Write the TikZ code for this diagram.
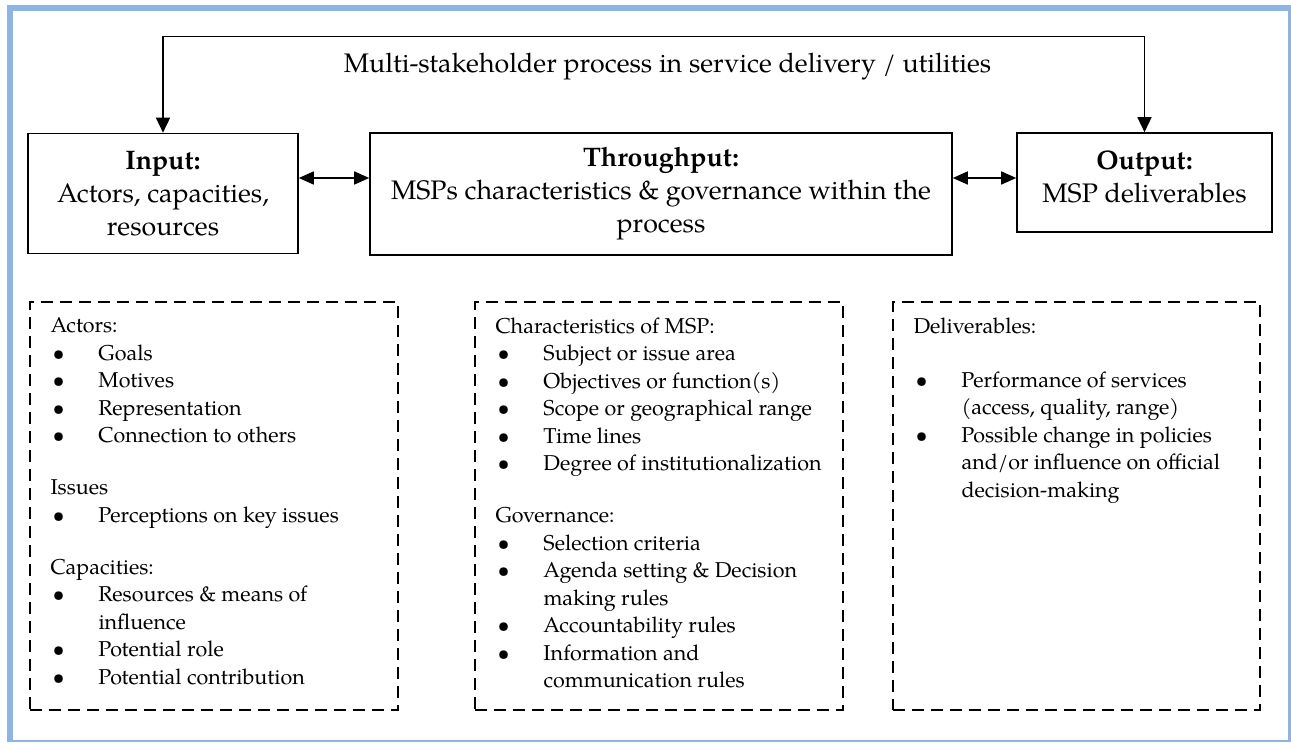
\documentclass[tikz,border=0pt]{standalone}
\usepackage{fontspec}
\setmainfont{texgyrepagella}[Extension=.otf, UprightFont=*-regular, BoldFont=*-bold, ItalicFont=*-italic, BoldItalicFont=*-bolditalic]
\usetikzlibrary{arrows.meta}
\definecolor{frameblue}{HTML}{8DB4E2}
\newcommand{\bitem}[1]{\hspace*{2pt}\makebox[46pt][l]{\textbullet}#1}
\newcommand{\contline}[1]{\hspace*{48pt}#1}
\tikzset{
  topbox/.style={draw, line width=1.6pt, inner sep=0pt, align=center, font=\fontsize{26.8}{33}\selectfont},
  dbox/.style={draw, line width=1.4pt, dash pattern=on 12pt off 7pt, inner sep=0pt},
  listtext/.style={inner sep=0pt, align=left, anchor=north west, font=\fontsize{21.5}{27.5}\selectfont},
  dblarr/.style={line width=1.6pt, {Triangle[length=15pt,width=13pt]}-{Triangle[length=15pt,width=13pt]}},
  looparr/.style={line width=1.6pt, {Triangle[length=15pt,width=14pt]}-{Triangle[length=15pt,width=14pt]}}
}
\begin{document}
\begin{tikzpicture}[x=1pt,y=-1pt]
\useasboundingbox (0,0) rectangle (1291,743);
\fill[white] (0,0) rectangle (1291,743);
% frame
\fill[frameblue] (7,5) rectangle (13,742);
\fill[frameblue] (7,5) rectangle (1290.5,11);
\fill[frameblue] (1287.5,5) rectangle (1290.5,742);
\fill[frameblue] (7,739.5) rectangle (1290.5,742);
% title
\node[font=\fontsize{26.8}{33}\selectfont, anchor=base, inner sep=0pt] (title) at (667.5,73) {Multi-stakeholder process in service delivery / utilities};
% top boxes
\node[topbox, minimum width=270pt, minimum height=120pt] (in) at (163,193.5) {\textbf{Input:}\\Actors, capacities,\\resources};
\node[topbox, minimum width=582pt, minimum height=122pt] (thr) at (661,194) {\textbf{Throughput:}\\MSPs characteristics \& governance within the\\process};
\node[topbox, minimum width=255pt, minimum height=99pt, text depth=12pt] (out) at (1144.5,182.5) {\textbf{Output:}\\MSP deliverables};
% connectors
\draw[looparr] (in.north) -- ([yshift=96pt]in.north) -| (out.north);
\draw[dblarr] ([yshift=15.5pt]in.east) -- ([yshift=16pt]thr.west);
\draw[dblarr] ([yshift=16pt]thr.east) -- ([yshift=4.5pt]out.west);
% dashed boxes
\node[dbox, minimum width=368pt, minimum height=408pt] (d1) at (214,506) {};
\node[dbox, minimum width=368pt, minimum height=408pt] (d2) at (659,506) {};
\node[dbox, minimum width=367pt, minimum height=408pt] (d3) at (1076.5,506) {};
\node[listtext] (l1) at ([xshift=21pt, yshift=-16pt]d1.north west) {Actors:\\
\bitem{Goals}\\
\bitem{Motives}\\
\bitem{Representation}\\
\bitem{Connection to others}\\[24.5pt]
Issues\\
\bitem{Perceptions on key issues}\\[24.5pt]
Capacities:\\
\bitem{Resources \& means of}\\
\contline{influence}\\
\bitem{Potential role}\\
\bitem{Potential contribution}};
\node[listtext] (l2) at ([xshift=21pt, yshift=-16pt]d2.north west) {Characteristics of MSP:\\
\bitem{Subject or issue area}\\
\bitem{Objectives or function(s)}\\
\bitem{Scope or geographical range}\\
\bitem{Time lines}\\
\bitem{Degree of institutionalization}\\[24.5pt]
Governance:\\
\bitem{Selection criteria}\\
\bitem{Agenda setting \& Decision}\\
\contline{making rules}\\
\bitem{Accountability rules}\\
\bitem{Information and}\\
\contline{communication rules}};
\node[listtext] (l3) at ([xshift=21pt, yshift=-16pt]d3.north west) {Deliverables:\\[26.5pt]
\bitem{Performance of services}\\
\contline{(access, quality, range)}\\
\bitem{Possible change in policies}\\
\contline{and/or influence on official}\\
\contline{decision-making}};
\end{tikzpicture}
\end{document}
